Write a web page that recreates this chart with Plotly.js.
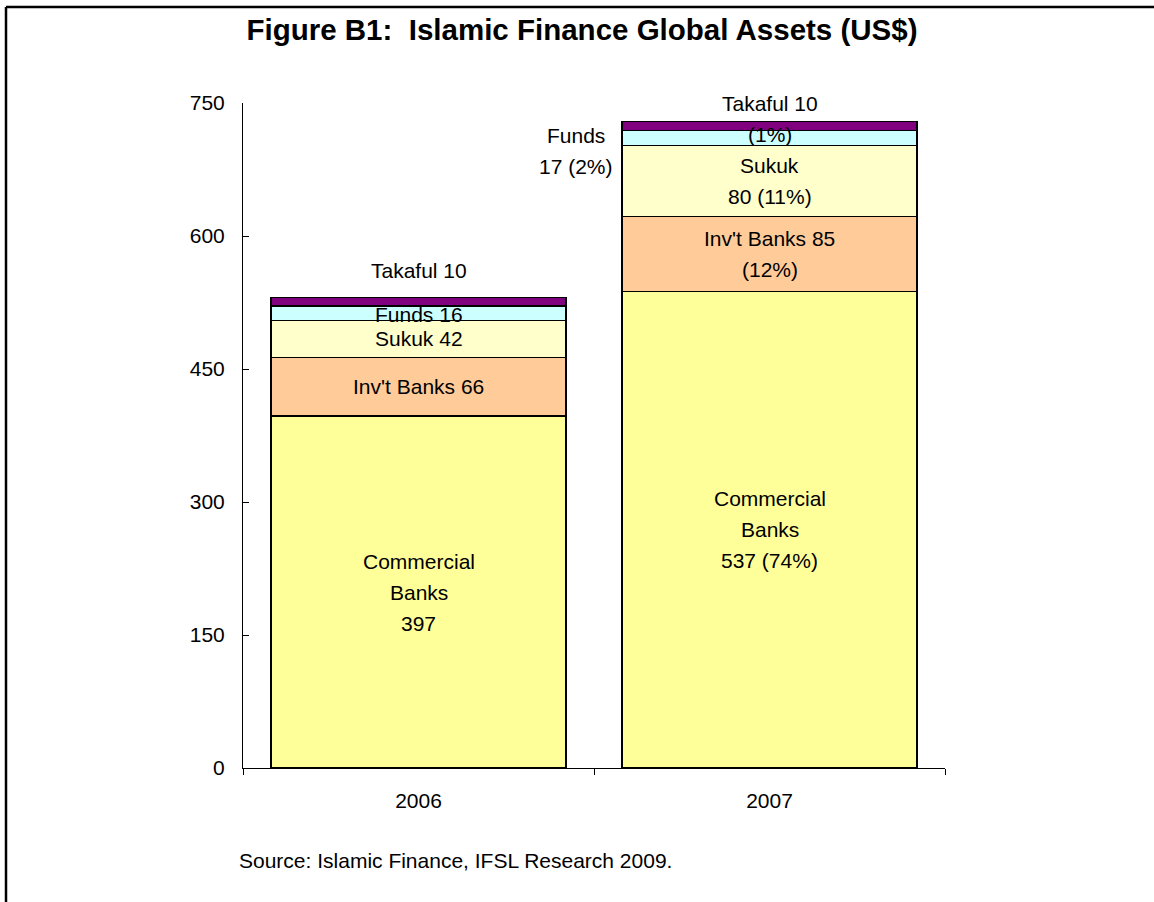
<!DOCTYPE html>
<html>
<head>
<meta charset="utf-8">
<script src="https://cdn.plot.ly/plotly-3.0.1.min.js"></script>
<style>
  html, body { margin: 0; padding: 0; background: #ffffff; }
  #chart { width: 1154px; height: 902px; }
</style>
</head>
<body>
<div id="chart"></div>
<script>
// ---------------- DATA ----------------
const years = ['2006', '2007'];
const seriesNames = ['Commercial Banks', "Inv't Banks", 'Sukuk', 'Funds', 'Takaful'];
const commercialBanks = [397, 537];
const invtBanks = [66, 85];
const sukuk = [42, 80];
const funds = [16, 17];
const takaful = [10, 10];

// label text lines for each series, per year
const commercialLabels = [['Commercial', 'Banks', '397'], ['Commercial', 'Banks', '537 (74%)']];
const invtLabels = [["Inv't Banks 66"], ["Inv't Banks 85", '(12%)']];
const sukukLabels = [['Sukuk 42'], ['Sukuk', '80 (11%)']];
const fundsLabels = [['Funds 16'], ['Funds', '17 (2%)']];
const takafulLabels = [['Takaful 10'], ['Takaful 10', '(1%)']];

const titleText = 'Figure B1:&nbsp; Islamic Finance Global Assets (US$)';
const sourceText = 'Source: Islamic Finance, IFSL Research 2009.';

// ---------------- STYLE / LAYOUT ----------------
const W = 1154, H = 902;
const M = { l: 243, r: 209, t: 103, b: 134 };
const plotW = W - M.l - M.r, plotH = H - M.t - M.b;
const FONT = 'Liberation Sans, Arial, Helvetica, sans-serif';
const colors = ['#FFFF99', '#FFCC99', '#FFFFCC', '#CCFFFF', '#800080'];
const values = [commercialBanks, invtBanks, sukuk, funds, takaful];
const labelSets = [commercialLabels, invtLabels, sukukLabels, fundsLabels, takafulLabels];
// pixel offsets of labels from segment centre [series][year] : {dx, dy} (dy positive = down)
const labelOffsets = [
  [{dx: 0, dy: 0}, {dx: 0, dy: 0}],
  [{dx: 0, dy: 0}, {dx: 0, dy: 0}],
  [{dx: 0, dy: 0}, {dx: 0, dy: 0}],
  [{dx: 0, dy: 1}, {dx: -194, dy: 12.5}],
  [{dx: 0, dy: -31.5}, {dx: 0, dy: -7}]
];
const LINE_H = 31;
const FS = 21;

const traces = seriesNames.map((name, s) => ({
  type: 'bar',
  name: name,
  x: years,
  y: values[s],
  width: 0.84,
  marker: { color: colors[s], line: { color: '#000000', width: 1.2 } },
  hoverinfo: 'x+y+name'
}));

const annotations = [];
years.forEach((yr, i) => {
  let base = 0;
  values.forEach((vals, s) => {
    const mid = base + vals[i] / 2;
    base += vals[i];
    const lines = labelSets[s][i];
    const off = labelOffsets[s][i];
    const n = lines.length;
    lines.forEach((txt, k) => {
      annotations.push({
        x: i, y: mid, xref: 'x', yref: 'y',
        text: txt, showarrow: false,
        xanchor: 'center', yanchor: 'middle',
        xshift: off.dx,
        yshift: -off.dy + ((n - 1) / 2 - k) * LINE_H,
        font: { family: FONT, size: FS, color: '#000000' }
      });
    });
  });
});

// source note
annotations.push({
  xref: 'paper', yref: 'paper',
  x: (237 - M.l) / plotW, y: -(860 - (H - M.b)) / plotH,
  xanchor: 'left', yanchor: 'middle',
  text: sourceText, showarrow: false,
  font: { family: FONT, size: FS, color: '#000000' }
});

const px = v => (v - M.l) / plotW;
const py = v => ((H - M.b) - v) / plotH;

const layout = {
  width: W, height: H,
  margin: M,
  paper_bgcolor: '#ffffff',
  plot_bgcolor: '#ffffff',
  barmode: 'stack',
  showlegend: false,
  font: { family: FONT, size: FS, color: '#000000' },
  title: {
    text: '<b>' + titleText + '</b>',
    xref: 'container', yref: 'container',
    x: 582 / W, y: 1 - 30 / H,
    xanchor: 'center', yanchor: 'middle',
    font: { family: FONT, size: 29.5, color: '#000000' }
  },
  xaxis: {
    type: 'category',
    range: [-0.5, 1.5],
    tickson: 'boundaries',
    ticks: 'outside', ticklen: 6, tickcolor: '#000000', tickwidth: 1,
    showline: true, linecolor: '#000000', linewidth: 1,
    showgrid: false, zeroline: false,
    tickfont: { family: FONT, size: FS, color: '#000000' },
    ticklabelstandoff: 14
  },
  yaxis: {
    range: [0, 750],
    tickmode: 'array',
    tickvals: [0, 150, 300, 450, 600, 750],
    ticks: 'inside', ticklen: 6, tickcolor: '#000000', tickwidth: 1,
    showline: true, linecolor: '#000000', linewidth: 1,
    showgrid: false, zeroline: false,
    tickfont: { family: FONT, size: FS, color: '#000000' },
    ticklabelstandoff: 13
  },
  annotations: annotations,
  shapes: [
    { type: 'line', xref: 'paper', yref: 'paper', x0: px(6), x1: px(1170), y0: py(7), y1: py(7),
      line: { color: '#000000', width: 2.5 } },
    { type: 'line', xref: 'paper', yref: 'paper', x0: px(6), x1: px(6), y0: py(7), y1: py(920),
      line: { color: '#000000', width: 2.5 } }
  ]
};

Plotly.newPlot('chart', traces, layout, { displayModeBar: false, responsive: false });
</script>
</body>
</html>
